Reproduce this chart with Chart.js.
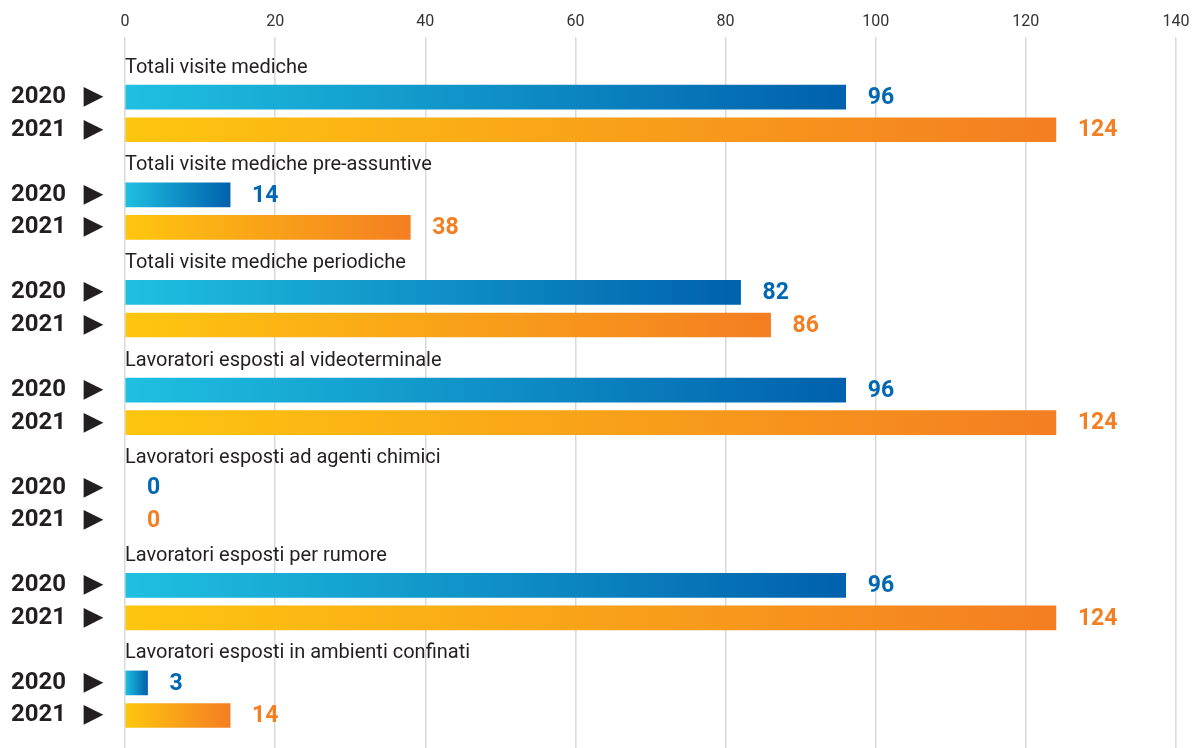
<!DOCTYPE html>
<html>
<head>
<meta charset="utf-8">
<script src="https://cdn.jsdelivr.net/npm/chart.js@4/dist/chart.umd.min.js"></script>
<style>
  html, body { margin: 0; padding: 0; background: #ffffff; }
  #wrap { width: 1195px; height: 748px; position: relative; }
</style>
</head>
<body>
<div id="wrap"><canvas id="c"></canvas></div>
<script>
const categories = [
  "Totali visite mediche",
  "Totali visite mediche pre-assuntive",
  "Totali visite mediche periodiche",
  "Lavoratori esposti al videoterminale",
  "Lavoratori esposti ad agenti chimici",
  "Lavoratori esposti per rumore",
  "Lavoratori esposti in ambienti confinati"
];
const years = ["2020", "2021"];
const values2020 = [96, 14, 82, 96, 0, 96, 3];
const values2021 = [124, 38, 86, 124, 0, 124, 14];
const xTicks = [0, 20, 40, 60, 80, 100, 120, 140];

const COLORS = {
  "2020": { from: "#1fc0e1", to: "#0061ac", text: "#0068b3" },
  "2021": { from: "#fec60f", to: "#f47e22", text: "#f47f22" }
};

// Each category takes three rows: title, 2020 bar, 2021 bar
const ROWS_PER_GROUP = 3;
const rowLabels = [];
categories.forEach((c) => { rowLabels.push({ type: "title", text: c }); years.forEach(y => rowLabels.push({ type: "year", text: y })); });

function makeData(vals, offset) {
  return vals.map((v, g) => ({ x: v, y: g * ROWS_PER_GROUP + offset }));
}

function gradientFor(year) {
  return function (ctx) {
    const chart = ctx.chart;
    const col = COLORS[year];
    if (!chart.chartArea || ctx.type !== "data" || !ctx.raw) return col.from;
    const xs = chart.scales.x;
    const x0 = xs.getPixelForValue(0);
    const x1 = xs.getPixelForValue(ctx.raw.x);
    if (x1 - x0 < 1) return "rgba(0,0,0,0)";
    const g = chart.ctx.createLinearGradient(x0, 0, x1, 0);
    g.addColorStop(0, col.from);
    g.addColorStop(1, col.to);
    return g;
  };
}

const labelPlugin = {
  id: "labelPlugin",
  afterDatasetsDraw(chart) {
    const ctx = chart.ctx;
    const xs = chart.scales.x, ys = chart.scales.y;
    ctx.save();
    // category titles
    ctx.font = "20px Roboto";
    ctx.fillStyle = "#231f20";
    ctx.textAlign = "left";
    ctx.textBaseline = "middle";
    categories.forEach((c, g) => {
      const y = ys.getPixelForValue(g * ROWS_PER_GROUP) + 3;
      ctx.fillText(c, xs.getPixelForValue(0), y);
    });
    // value labels
    ctx.font = "bold 23px Roboto";
    chart.data.datasets.forEach((ds, di) => {
      const meta = chart.getDatasetMeta(di);
      ctx.fillStyle = COLORS[ds.label].text;
      meta.data.forEach((bar, i) => {
        const v = ds.data[i].x;
        ctx.fillText(String(v), bar.x + 22, bar.y + 1);
      });
    });
    ctx.restore();
  }
};

new Chart(document.getElementById("c"), {
  type: "bar",
  data: {
    datasets: [
      { label: "2020", data: makeData(values2020, 1), backgroundColor: gradientFor("2020"), borderWidth: 0, barThickness: 24, grouped: false },
      { label: "2021", data: makeData(values2021, 2), backgroundColor: gradientFor("2021"), borderWidth: 0, barThickness: 24, grouped: false }
    ]
  },
  options: {
    indexAxis: "y",
    responsive: true,
    maintainAspectRatio: false,
    animation: false,
    layout: { padding: { left: 0, right: 19, top: 0, bottom: 0 } },
    plugins: { legend: { display: false }, tooltip: { enabled: false } },
    scales: {
      x: {
        type: "linear",
        position: "top",
        min: xTicks[0],
        max: xTicks[xTicks.length - 1],
        afterBuildTicks: (s) => { s.ticks = xTicks.map(v => ({ value: v })); },
        afterFit: (s) => { s.height = 37; s.paddingLeft = 0; s.paddingRight = 0; },
        grid: { color: "#d9d9d9", lineWidth: 1.5, drawTicks: false },
        border: { display: false },
        ticks: { color: "#333333", font: { family: "Roboto", size: 16 }, padding: 5 }
      },
      y: {
        type: "linear",
        reverse: true,
        offset: false,
        min: -0.85,
        max: 21.0,
        afterBuildTicks: (s) => { s.ticks = rowLabels.map((r, i) => ({ value: i })); },
        afterFit: (s) => { s.width = 125; s.paddingTop = 0; s.paddingBottom = 0; },
        grid: { display: false, drawTicks: false, offset: false },
        border: { display: false },
        ticks: {
          autoSkip: false,
          color: "#231f20",
          font: { family: "Roboto", size: 24, weight: "bold" },
          padding: 23,
          callback: (v) => { const r = rowLabels[v]; return r && r.type === "year" ? r.text + "   \u25B6" : ""; }
        }
      }
    }
  },
  plugins: [labelPlugin]
});
</script>
</body>
</html>
